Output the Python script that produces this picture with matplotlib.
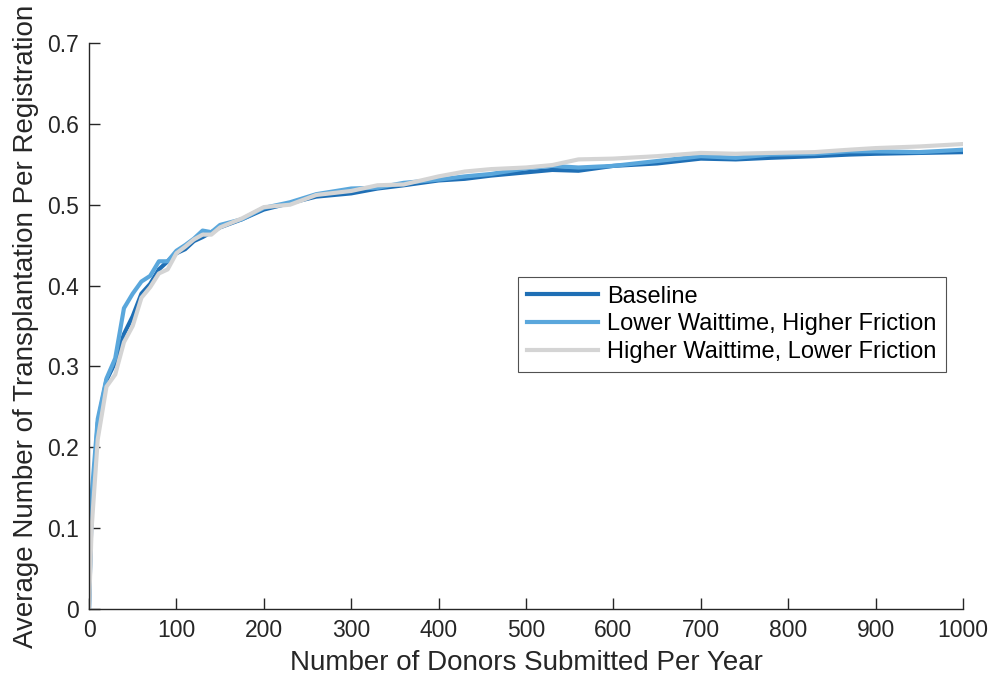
import numpy as np
import matplotlib
matplotlib.use("Agg")
import matplotlib.pyplot as plt

plt.rcParams['font.family'] = ['Liberation Sans', 'DejaVu Sans']

# donors submitted per year
donors = [0, 3, 10, 20, 30, 40, 50, 60, 70, 80, 90, 100, 110, 120, 130, 140, 150,
          175, 200, 230, 260, 300, 330, 360, 400, 430, 460, 500, 530, 560, 600,
          650, 700, 740, 780, 830, 870, 900, 950, 1000]

baseline = [0, 0.12, 0.23, 0.283, 0.305, 0.34, 0.362, 0.39, 0.402, 0.42, 0.43, 0.44,
            0.445, 0.455, 0.46, 0.466, 0.472, 0.482, 0.494, 0.502, 0.51, 0.514,
            0.52, 0.524, 0.53, 0.532, 0.536, 0.54, 0.543, 0.542, 0.548,
            0.551, 0.557, 0.556, 0.558, 0.56, 0.562, 0.563, 0.564, 0.565]

lower_wait = [0, 0.14, 0.235, 0.285, 0.31, 0.372, 0.39, 0.405, 0.412, 0.43, 0.43, 0.443,
              0.45, 0.458, 0.468, 0.466, 0.475, 0.482, 0.496, 0.503, 0.513, 0.52,
              0.521, 0.527, 0.531, 0.535, 0.538, 0.545, 0.548, 0.546, 0.548,
              0.554, 0.56, 0.558, 0.562, 0.563, 0.566, 0.566, 0.565, 0.568]

higher_wait = [0, 0.1, 0.21, 0.275, 0.29, 0.33, 0.35, 0.385, 0.398, 0.415, 0.42, 0.44,
               0.448, 0.457, 0.463, 0.463, 0.472, 0.483, 0.497, 0.5, 0.512, 0.517,
               0.524, 0.525, 0.535, 0.541, 0.544, 0.546, 0.549, 0.556, 0.557,
               0.56, 0.564, 0.563, 0.564, 0.565, 0.568, 0.57, 0.572, 0.575]

fig = plt.figure(figsize=(9.9, 6.82), dpi=100)
ax = fig.add_axes([0.0899, 0.107, 0.8828, 0.830])

ax.plot(donors, baseline, color='#1f6fb5', lw=3, label='Baseline')
ax.plot(donors, lower_wait, color='#5aa7dc', lw=3, label='Lower Waittime, Higher Friction')
ax.plot(donors, higher_wait, color='#d4d4d4', lw=3, label='Higher Waittime, Lower Friction')

ax.set_xlim(0, 1000)
ax.set_ylim(0, 0.7)
ax.set_xticks(np.arange(0, 1001, 100))
ax.set_yticks(np.arange(0, 0.71, 0.1))
ax.set_yticklabels(['0', '0.1', '0.2', '0.3', '0.4', '0.5', '0.6', '0.7'])

for s in ['top', 'right']:
    ax.spines[s].set_visible(False)
for s in ['left', 'bottom']:
    ax.spines[s].set_color('#262626')
    ax.spines[s].set_linewidth(1.0)
ax.tick_params(direction='in', length=8, width=1, colors='#262626', labelsize=16.5, pad=7)

ax.set_xlabel('Number of Donors Submitted Per Year', fontsize=20, color='#262626', labelpad=6)
ax.set_ylabel('Average Number of Transplantation Per Registration', fontsize=20,
              color='#262626', labelpad=6)

leg = ax.legend(loc='upper left', bbox_to_anchor=(0.491, 0.587), fontsize=17,
                frameon=True, fancybox=False, borderaxespad=0, handlelength=3.0,
                handletextpad=0.4, labelspacing=0.24, borderpad=0.38)
leg.get_frame().set_edgecolor('#262626')
leg.get_frame().set_linewidth(0.8)

fig.savefig('out.png', dpi=100)
